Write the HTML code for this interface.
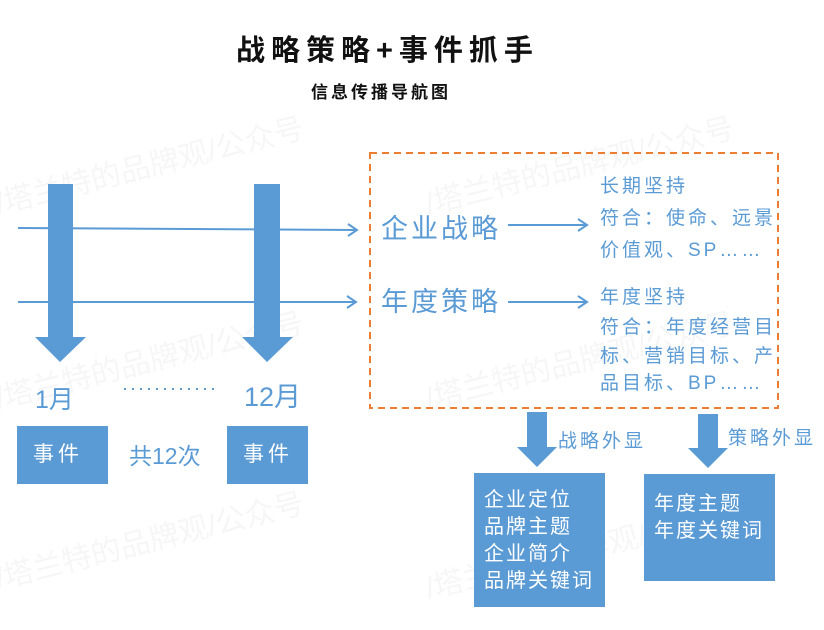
<!DOCTYPE html>
<html><head><meta charset="utf-8"><style>
body{margin:0;background:#fff;}
#c{position:relative;width:824px;height:630px;overflow:hidden;font-family:"Liberation Sans","Noto Sans CJK SC",sans-serif;}
.t{position:absolute;white-space:nowrap;line-height:1;}
.b{color:#5b9bd5;}
.w{color:#fff;}
.box{position:absolute;background:#5b9bd5;}
.wm{position:absolute;color:#000;opacity:0.03;font-size:30px;white-space:nowrap;transform:rotate(-14deg);transform-origin:left top;}
</style></head><body><div id="c">
<div class="wm" style="left:-10px;top:180px">/塔兰特的品牌观/公众号</div>
<div class="wm" style="left:-10px;top:375px">/塔兰特的品牌观/公众号</div>
<div class="wm" style="left:-10px;top:555px">/塔兰特的品牌观/公众号</div>
<div class="wm" style="left:420px;top:180px">/塔兰特的品牌观/公众号</div>
<div class="wm" style="left:420px;top:375px">/塔兰特的品牌观/公众号</div>
<div class="wm" style="left:420px;top:565px">/塔兰特的品牌观/公众号</div>

<div class="t" style="left:236px;top:37px;font-size:29px;font-weight:bold;letter-spacing:6px;color:#111">战略策略+事件抓手</div>
<div class="t" style="left:311px;top:84px;font-size:17px;font-weight:bold;letter-spacing:3px;color:#111">信息传播导航图</div>

<svg width="824" height="630" style="position:absolute;left:0;top:0">
<g stroke="#5b9bd5" stroke-width="2" fill="none">
<line x1="18" y1="228" x2="357" y2="230"/><polyline points="348,224 357,230 348,236"/>
<line x1="18" y1="302" x2="356" y2="302"/><polyline points="347,296 356,302 347,308"/>
<line x1="508" y1="225" x2="587" y2="225"/><polyline points="578,219 587,225 578,231"/>
<line x1="508" y1="302" x2="587" y2="302"/><polyline points="578,296 587,302 578,308"/>
</g>
<g fill="#5b9bd5">
<rect x="48" y="184" width="25" height="154"/><polygon points="35,337 86,337 60,362"/>
<rect x="254" y="184" width="26" height="154"/><polygon points="242,337 293,337 267,362"/>
<rect x="527" y="412" width="20" height="36"/><polygon points="517,447 557,447 537,467"/>
<rect x="698" y="414" width="20" height="35"/><polygon points="688,448 728,448 708,468"/>
</g>
<rect x="370" y="153" width="408" height="255" fill="none" stroke="#ed7d31" stroke-width="2" stroke-dasharray="7,5"/>
<line x1="124" y1="389" x2="218" y2="389" stroke="#5b9bd5" stroke-width="2" stroke-dasharray="2,6"/>
</svg>

<div class="t b" style="left:35px;top:388px;font-size:25px">1月</div>
<div class="t b" style="left:244px;top:384px;font-size:27px">12月</div>
<div class="box" style="left:17px;top:426px;width:91px;height:58px"></div>
<div class="t w" style="left:33px;top:444px;font-size:21px;letter-spacing:4px">事件</div>
<div class="box" style="left:227px;top:426px;width:81px;height:58px"></div>
<div class="t w" style="left:243px;top:444px;font-size:21px;letter-spacing:4px">事件</div>
<div class="t b" style="left:129px;top:445px;font-size:23px">共12次</div>

<div class="t b" style="left:381px;top:216px;font-size:27px;letter-spacing:3px">企业战略</div>
<div class="t b" style="left:381px;top:289px;font-size:27px;letter-spacing:3px">年度策略</div>
<div class="t b" style="left:600px;top:177px;font-size:19px;letter-spacing:3px">长期坚持</div>
<div class="t b" style="left:600px;top:209px;font-size:19px;letter-spacing:3px">符合：使命、远景</div>
<div class="t b" style="left:600px;top:241px;font-size:19px;letter-spacing:3px">价值观、SP……</div>
<div class="t b" style="left:600px;top:288px;font-size:19px;letter-spacing:3px">年度坚持</div>
<div class="t b" style="left:600px;top:318px;font-size:19px;letter-spacing:3px">符合：年度经营目</div>
<div class="t b" style="left:600px;top:347px;font-size:19px;letter-spacing:3px">标、营销目标、产</div>
<div class="t b" style="left:600px;top:374px;font-size:19px;letter-spacing:3px">品目标、BP……</div>

<div class="t b" style="left:558px;top:432px;font-size:19px;letter-spacing:3px">战略外显</div>
<div class="t b" style="left:728px;top:429px;font-size:19px;letter-spacing:3px">策略外显</div>

<div class="box" style="left:474px;top:473px;width:131px;height:134px"></div>
<div class="t w" style="left:484px;top:487px;font-size:20px;letter-spacing:2px;line-height:27px">企业定位<br>品牌主题<br>企业简介<br>品牌关键词</div>
<div class="box" style="left:644px;top:474px;width:131px;height:107px"></div>
<div class="t w" style="left:654px;top:491px;font-size:20px;letter-spacing:2px;line-height:27px">年度主题<br>年度关键词</div>
</div></body></html>
